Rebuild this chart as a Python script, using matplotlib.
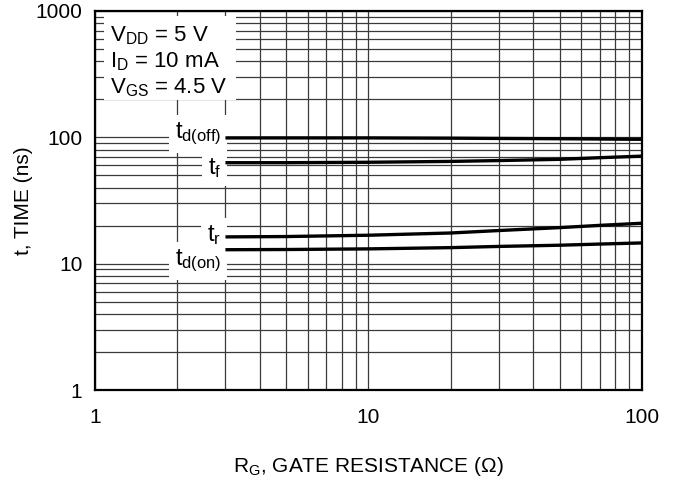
import numpy as np
import matplotlib
matplotlib.use("Agg")
from matplotlib import pyplot
from matplotlib.patches import Rectangle
from matplotlib.ticker import FixedLocator, NullFormatter, FixedFormatter

pyplot.rcParams['font.family'] = ['Liberation Sans', 'DejaVu Sans']
pyplot.rcParams['mathtext.default'] = 'regular'

# gate resistance (ohm) and switching times (ns)
rg = [3, 5, 10, 20, 30, 50, 70, 100]
td_off = [99, 99, 99, 98.5, 98, 97.5, 97, 96.5]
t_f = [63, 63, 63.5, 64.5, 65.5, 67, 69, 71]
t_r = [16.3, 16.4, 16.8, 17.5, 18.3, 19.3, 20.1, 20.9]
td_on = [12.9, 12.95, 13.1, 13.4, 13.7, 14.0, 14.3, 14.6]

curves = [td_off, t_f, t_r, td_on]
labels = ['t$_{d(off)}$', 't$_{f}$', 't$_{r}$', 't$_{d(on)}$']
label_dy = [3, -4, 1, -8]

xticks = [1, 10, 100]
yticks = [1, 10, 100, 1000]

conditions = 'V$_{DD}$ = 5 V\nI$_{D}$ = 10 mA\nV$_{GS}$ = 4.5 V'

fs = 15

fig = pyplot.figure(figsize=(6.76, 4.78), dpi=100)
ax = fig.add_axes([0.1405, 0.184, 0.809, 0.793])
ax.set_xscale('log')
ax.set_yscale('log')
ax.set_xlim(1, 100)
ax.set_ylim(1, 1000)

xminor = [m * d for d in (1, 10) for m in range(2, 10)]
yminor = [m * d for d in (1, 10, 100) for m in range(2, 10)]
ax.xaxis.set_major_locator(FixedLocator(xticks))
ax.xaxis.set_major_formatter(FixedFormatter([str(v) for v in xticks]))
ax.yaxis.set_major_locator(FixedLocator(yticks))
ax.yaxis.set_major_formatter(FixedFormatter([str(v) for v in yticks]))
ax.xaxis.set_minor_locator(FixedLocator(xminor))
ax.yaxis.set_minor_locator(FixedLocator(yminor))
ax.xaxis.set_minor_formatter(NullFormatter())
ax.yaxis.set_minor_formatter(NullFormatter())
ax.tick_params(which='both', length=0, labelsize=fs)
ax.tick_params(axis='y', pad=9)
ax.tick_params(axis='x', pad=13)

ax.grid(True, which='both', color='#3a3a3a', lw=0.9, zorder=1)
ax.set_axisbelow(True)
for s in ax.spines.values():
    s.set_linewidth(1.6)
    s.set_zorder(5)

# white patch behind the test conditions
ax.add_patch(Rectangle((0.017, 0.765), 0.241, 0.222, transform=ax.transAxes,
                       fc='white', ec='none', zorder=2))
ax.text(0.028, 0.965, conditions, transform=ax.transAxes, ha='left', va='top',
        fontsize=16, linespacing=1.2, zorder=3)

# draw bottom labels first so the upper ones sit on top of their neighbours' boxes
for vals, lab, dy in reversed(list(zip(curves, labels, label_dy))):
    ax.plot(rg, vals, color='black', lw=2.4, solid_capstyle='butt', zorder=4)
    ax.annotate(lab, xy=(rg[0], vals[0]), xytext=(-3, dy), textcoords='offset points',
                ha='right', va='center', fontsize=17, zorder=3,
                bbox=dict(boxstyle='square,pad=0.25', fc='white', ec='none'))

ax.set_xlabel('R$_{G}$, GATE RESISTANCE ($\\Omega$)', fontsize=fs, labelpad=20)
ax.set_ylabel('t, TIME (ns)', fontsize=fs, labelpad=2)

fig.savefig('out.png', dpi=100)
